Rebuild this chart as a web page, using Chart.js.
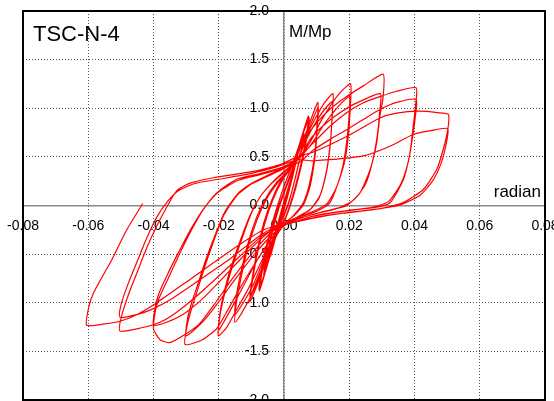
<!DOCTYPE html>
<html>
<head>
<meta charset="utf-8">
<script src="https://cdn.jsdelivr.net/npm/chart.js@4.4.0/dist/chart.umd.min.js"></script>
<style>
  html, body { margin: 0; padding: 0; background: #fff; }
  #wrap { width: 554px; height: 401px; }
  canvas { display: block; background: #fff; }
</style>
</head>
<body>
<div id="wrap"><canvas id="hyst" width="554" height="401"></canvas></div>
<script>
// Axis ranges and tick steps
var xMin = -0.08, xMax = 0.08, xStep = 0.02;
var yMin = -2.0, yMax = 2.0, yStep = 0.5;

// Labels
var specimenName = 'TSC-N-4';
var yTitle = 'M/Mp';
var xTitle = 'radian';

// Measured path, [rotation (rad), M/Mp], one array per amplitude group
var cycleStart = [[0, 0]];

var cycle004 = [
    [-0.0015, -0.2], [-0.004, -0.5], [-0.0027, -0.3], [0.0, 0.0], [0.0022, 0.25], [0.004, 0.5], [0.0027, 0.3], [0.0, 0.0],
    [-0.0018, -0.22], [-0.0041, -0.52], [-0.0028, -0.3], [-0.0002, 0.02], [0.002, 0.26], [0.0042, 0.53], [0.0028, 0.32], [0.0002, -0.02]
];

var cycle006 = [
    [-0.003, -0.35], [-0.006, -0.7], [-0.0046, -0.42], [-0.0015, -0.02], [0.0025, 0.35], [0.006, 0.72], [0.0046, 0.45], [0.0012, 0.0],
    [-0.0032, -0.36], [-0.0062, -0.71], [-0.0047, -0.43], [-0.0016, -0.01], [0.0026, 0.38], [0.0061, 0.74], [0.0047, 0.46], [0.0013, 0.02]
];

var cycle0075 = [
    [-0.002, -0.25], [-0.0048, -0.58], [-0.0075, -0.88], [-0.0062, -0.58], [-0.0035, -0.2], [-0.0005, 0.15],
    [0.0035, 0.5], [0.0075, 0.92], [0.0063, 0.6], [0.0035, 0.2], [0.0005, -0.12],
    [-0.0022, -0.27], [-0.005, -0.6], [-0.0077, -0.86], [-0.0063, -0.55], [-0.0036, -0.18], [-0.0006, 0.14],
    [0.0036, 0.52], [0.0077, 0.9], [0.0064, 0.58], [0.0036, 0.18], [0.0004, -0.14]
];

var cycle010 = [
    [-0.003, -0.36], [-0.006, -0.62], [-0.0085, -0.84], [-0.0105, -0.99],
    [-0.0097, -0.78], [-0.0082, -0.5], [-0.006, -0.2], [-0.0035, 0.05], [-0.0005, 0.26], [0.003, 0.43],
    [0.006, 0.68], [0.0082, 0.88], [0.0104, 1.06],
    [0.0101, 0.82], [0.0094, 0.52], [0.0078, 0.22], [0.0058, 0.02], [0.003, -0.1], [0.0, -0.2],
    [-0.0032, -0.36], [-0.0062, -0.6], [-0.0087, -0.8], [-0.0104, -0.94],
    [-0.0097, -0.74], [-0.0083, -0.48], [-0.0062, -0.18], [-0.0037, 0.06], [-0.0007, 0.27], [0.003, 0.44],
    [0.0062, 0.68], [0.0085, 0.86], [0.0105, 1.01],
    [0.0102, 0.8], [0.0095, 0.5], [0.008, 0.2], [0.006, 0.01], [0.0032, -0.1], [0.0, -0.19]
];

var cycle015 = [
    [-0.003, -0.35], [-0.006, -0.6], [-0.009, -0.85], [-0.012, -1.05], [-0.015, -1.2],
    [-0.0146, -1.0], [-0.0132, -0.75], [-0.0112, -0.45], [-0.0083, -0.15], [-0.0053, 0.07], [-0.002, 0.23], [0.001, 0.34], [0.004, 0.46],
    [0.007, 0.72], [0.01, 0.92], [0.0125, 1.06], [0.015, 1.15],
    [0.0148, 0.95], [0.0143, 0.68], [0.0131, 0.37], [0.011, 0.1], [0.008, -0.04], [0.004, -0.12], [0.0, -0.19],
    [-0.003, -0.33], [-0.0065, -0.58], [-0.0095, -0.82], [-0.0125, -1.0], [-0.015, -1.12],
    [-0.0146, -0.93], [-0.0133, -0.7], [-0.0113, -0.42], [-0.0085, -0.13], [-0.0055, 0.08], [-0.0022, 0.24], [0.001, 0.35], [0.004, 0.46],
    [0.0072, 0.7], [0.0102, 0.88], [0.0127, 1.0], [0.0149, 1.07],
    [0.0147, 0.88], [0.0142, 0.63], [0.013, 0.34], [0.0108, 0.08], [0.0078, -0.05], [0.004, -0.13], [0.0, -0.2]
];

var cycle020 = [
    [-0.003, -0.32], [-0.007, -0.58], [-0.011, -0.86], [-0.015, -1.1], [-0.0175, -1.25], [-0.0201, -1.34],
    [-0.0197, -1.15], [-0.0185, -0.95], [-0.0165, -0.7], [-0.0135, -0.4], [-0.0105, -0.12], [-0.0075, 0.08], [-0.004, 0.22], [0.0, 0.34], [0.004, 0.46],
    [0.0085, 0.68], [0.011, 0.85], [0.0141, 1.02], [0.0172, 1.16], [0.0204, 1.25],
    [0.0203, 1.0], [0.0197, 0.71], [0.0187, 0.47], [0.0166, 0.233], [0.0141, 0.03], [0.01, -0.06], [0.005, -0.12], [0.001, -0.18],
    [-0.003, -0.3], [-0.008, -0.55], [-0.012, -0.8], [-0.016, -1.05], [-0.0185, -1.2], [-0.02, -1.28],
    [-0.0196, -1.1], [-0.0184, -0.9], [-0.0164, -0.65], [-0.0134, -0.36], [-0.0104, -0.1], [-0.0073, 0.09], [-0.0038, 0.23], [0.0, 0.35], [0.004, 0.46],
    [0.009, 0.66], [0.012, 0.82], [0.0152, 0.96], [0.0178, 1.06], [0.0201, 1.12],
    [0.0199, 0.9], [0.0192, 0.65], [0.018, 0.4], [0.016, 0.18], [0.0132, 0.02], [0.009, -0.06], [0.004, -0.13], [0.0, -0.19]
];

var cycle030 = [
    [-0.003, -0.3], [-0.008, -0.55], [-0.013, -0.82], [-0.017, -1.06], [-0.0205, -1.26], [-0.025, -1.38], [-0.0303, -1.43],
    [-0.0298, -1.25], [-0.0285, -1.08], [-0.0268, -0.9], [-0.0243, -0.63], [-0.0217, -0.38], [-0.0186, -0.11], [-0.0145, 0.1], [-0.01, 0.22], [-0.005, 0.3], [0.0, 0.38], [0.004, 0.47],
    [0.007, 0.71], [0.01, 0.85], [0.0141, 0.99], [0.0192, 1.12], [0.0243, 1.23], [0.0304, 1.35],
    [0.0304, 1.12], [0.0294, 0.92], [0.0284, 0.645], [0.0264, 0.37], [0.0233, 0.13], [0.0192, 0.0], [0.014, -0.05], [0.008, -0.1], [0.002, -0.17],
    [-0.003, -0.28], [-0.009, -0.5], [-0.015, -0.76], [-0.02, -0.99], [-0.025, -1.2], [-0.03, -1.34],
    [-0.0296, -1.17], [-0.0283, -1.0], [-0.0265, -0.82], [-0.024, -0.56], [-0.0213, -0.32], [-0.0182, -0.07], [-0.0142, 0.12], [-0.0098, 0.23], [-0.005, 0.31], [0.0, 0.39], [0.0045, 0.48],
    [0.008, 0.68], [0.012, 0.82], [0.017, 0.95], [0.022, 1.05], [0.0295, 1.15],
    [0.0293, 0.95], [0.0286, 0.72], [0.0271, 0.45], [0.025, 0.22], [0.0215, 0.06], [0.017, -0.02], [0.01, -0.08], [0.002, -0.17]
];

var cycle040 = [
    [-0.004, -0.28], [-0.01, -0.5], [-0.016, -0.76], [-0.021, -1.0], [-0.026, -1.22], [-0.031, -1.34], [-0.035, -1.41], [-0.038, -1.38], [-0.04, -1.27],
    [-0.0395, -1.1], [-0.0385, -0.97], [-0.0355, -0.75], [-0.0329, -0.56], [-0.0288, -0.28], [-0.0247, -0.04], [-0.0206, 0.13], [-0.0145, 0.27], [-0.007, 0.33], [0.0, 0.4], [0.004, 0.48],
    [0.009, 0.645], [0.0141, 0.815], [0.0192, 0.953], [0.0243, 1.056], [0.0294, 1.12], [0.0345, 1.175], [0.0405, 1.21],
    [0.0403, 1.02], [0.0396, 0.815], [0.0386, 0.54], [0.0366, 0.267], [0.0325, 0.028], [0.028, -0.02], [0.02, -0.05], [0.01, -0.1], [0.003, -0.17],
    [-0.004, -0.26], [-0.011, -0.47], [-0.018, -0.72], [-0.025, -0.96], [-0.031, -1.12], [-0.036, -1.2], [-0.04, -1.23],
    [-0.0396, -1.07], [-0.0383, -0.9], [-0.0353, -0.68], [-0.0326, -0.5], [-0.0285, -0.24], [-0.0243, -0.02], [-0.02, 0.14], [-0.014, 0.26], [-0.007, 0.32], [0.0, 0.39], [0.005, 0.45],
    [0.009, 0.57], [0.0141, 0.68], [0.0192, 0.78], [0.0243, 0.884], [0.0294, 0.987], [0.0345, 1.06], [0.0405, 1.09],
    [0.0402, 0.9], [0.0394, 0.7], [0.0381, 0.45], [0.0358, 0.22], [0.032, 0.04], [0.027, -0.02], [0.018, -0.06], [0.009, -0.11], [0.002, -0.18]
];

var cycle050 = [
    [-0.002, -0.22], [-0.0074, -0.33], [-0.0166, -0.62], [-0.0257, -0.9], [-0.033, -1.1], [-0.038, -1.2], [-0.044, -1.26], [-0.0503, -1.29],
    [-0.0499, -1.15], [-0.0475, -0.9], [-0.0447, -0.66], [-0.042, -0.43], [-0.039, -0.21], [-0.036, -0.02], [-0.0329, 0.15], [-0.0288, 0.23], [-0.0217, 0.285], [-0.0094, 0.35], [-0.0012, 0.42], [0.004, 0.5],
    [0.009, 0.55], [0.0192, 0.71], [0.0294, 0.9], [0.0345, 0.95], [0.0417, 0.97], [0.047, 0.955], [0.0504, 0.936],
    [0.0502, 0.78], [0.0488, 0.576], [0.0468, 0.37], [0.0427, 0.165], [0.0365, 0.03], [0.03, -0.03], [0.02, -0.07], [0.01, -0.12], [0.003, -0.17],
    [-0.002, -0.21], [-0.0074, -0.31], [-0.0166, -0.55], [-0.0257, -0.76], [-0.034, -0.95], [-0.04, -1.06], [-0.045, -1.12], [-0.0503, -1.15],
    [-0.0498, -1.0], [-0.0475, -0.78], [-0.0447, -0.55], [-0.042, -0.33], [-0.039, -0.12], [-0.0355, 0.05], [-0.032, 0.16], [-0.027, 0.23], [-0.02, 0.27], [-0.01, 0.33], [-0.002, 0.4], [0.004, 0.47],
    [0.009, 0.46], [0.0243, 0.51], [0.0325, 0.61], [0.0396, 0.73], [0.045, 0.77], [0.0502, 0.79],
    [0.0495, 0.6], [0.048, 0.42], [0.0455, 0.25], [0.0415, 0.1], [0.035, 0.0], [0.028, -0.04], [0.018, -0.08], [0.009, -0.13], [0.002, -0.18]
];

var cycle060 = [
    [-0.001, -0.19], [-0.0074, -0.27], [-0.0166, -0.47], [-0.0288, -0.76], [-0.039, -1.0], [-0.045, -1.12], [-0.0503, -1.19], [-0.0555, -1.22], [-0.0605, -1.23],
    [-0.0598, -1.04], [-0.0584, -0.9], [-0.0555, -0.72], [-0.0528, -0.56], [-0.0482, -0.25], [-0.0433, 0.02]
];

(function() {
    'use strict';

    var FONT = '"Liberation Sans", Arial, sans-serif';

    // Join the cycle groups into one continuous path
    var groups = [cycleStart, cycle004, cycle006, cycle0075, cycle010, cycle015,
                  cycle020, cycle030, cycle040, cycle050, cycle060];
    var pathPoints = [];
    for (var g = 0; g < groups.length; g++) {
        for (var i = 0; i < groups[g].length; i++) {
            pathPoints.push({ x: groups[g][i][0], y: groups[g][i][1] });
        }
    }

    // Keep axis label overhang from shrinking the plot area
    function noPadding(scale) {
        scale.paddingLeft = 0;
        scale.paddingRight = 0;
        scale.paddingTop = 0;
        scale.paddingBottom = 0;
    }

    function fmt(v, digits) {
        if (Math.abs(v) < 1e-9) v = 0;
        return v.toFixed(digits);
    }

    // Frame and free text labels
    var framePlugin = {
        id: 'frameAndText',
        afterDraw: function(chart) {
            var ctx = chart.ctx;
            var a = chart.chartArea;
            var xs = chart.scales.x, ys = chart.scales.y;
            ctx.save();
            ctx.strokeStyle = '#000';
            ctx.lineWidth = 2;
            ctx.strokeRect(a.left, a.top, a.right - a.left, a.bottom - a.top);

            ctx.fillStyle = '#000';
            ctx.textBaseline = 'alphabetic';
            ctx.textAlign = 'left';
            ctx.font = '22px ' + FONT;
            ctx.fillText(specimenName, a.left + 10, a.top + 30);

            ctx.font = '17px ' + FONT;
            ctx.fillText(yTitle, xs.getPixelForValue(0) + 5, a.top + 26);
            ctx.textAlign = 'right';
            ctx.fillText(xTitle, a.right - 4, ys.getPixelForValue(0) - 9);
            ctx.restore();
        }
    };

    // Both axes cross at the middle of the plot (x = 0, y = 0)
    var canvas = document.getElementById('hyst');
    new Chart(canvas, {
        type: 'scatter',
        data: {
            datasets: [{
                data: pathPoints,
                showLine: true,
                borderColor: '#ff0000',
                borderWidth: 1.2,
                pointRadius: 0,
                pointHoverRadius: 0,
                tension: 0.2,
                fill: false
            }]
        },
        options: {
            responsive: false,
            maintainAspectRatio: false,
            animation: false,
            events: [],
            layout: { padding: { left: 23, right: 9, top: 11, bottom: 1 } },
            plugins: {
                legend: { display: false },
                tooltip: { enabled: false }
            },
            scales: {
                x: {
                    type: 'linear',
                    min: xMin,
                    max: xMax,
                    position: 'center',
                    afterFit: noPadding,
                    ticks: {
                        stepSize: xStep,
                        autoSkip: false,
                        maxRotation: 0,
                        padding: 12,
                        color: '#000',
                        font: { family: FONT, size: 14 },
                        callback: function(v) { return fmt(v, 2); }
                    },
                    grid: { color: '#555', lineWidth: 1, drawTicks: false },
                    border: { display: true, color: '#8a8a8a', width: 1.5, dash: [1, 2] }
                },
                y: {
                    type: 'linear',
                    min: yMin,
                    max: yMax,
                    position: 'center',
                    afterFit: noPadding,
                    ticks: {
                        stepSize: yStep,
                        autoSkip: false,
                        padding: 15,
                        color: '#000',
                        font: { family: FONT, size: 14 },
                        callback: function(v) { return fmt(v, 1); }
                    },
                    grid: { color: '#555', lineWidth: 1, drawTicks: false },
                    border: { display: true, color: '#8a8a8a', width: 1.5, dash: [1, 2] }
                }
            }
        },
        plugins: [framePlugin]
    });
})();
</script>
</body>
</html>
